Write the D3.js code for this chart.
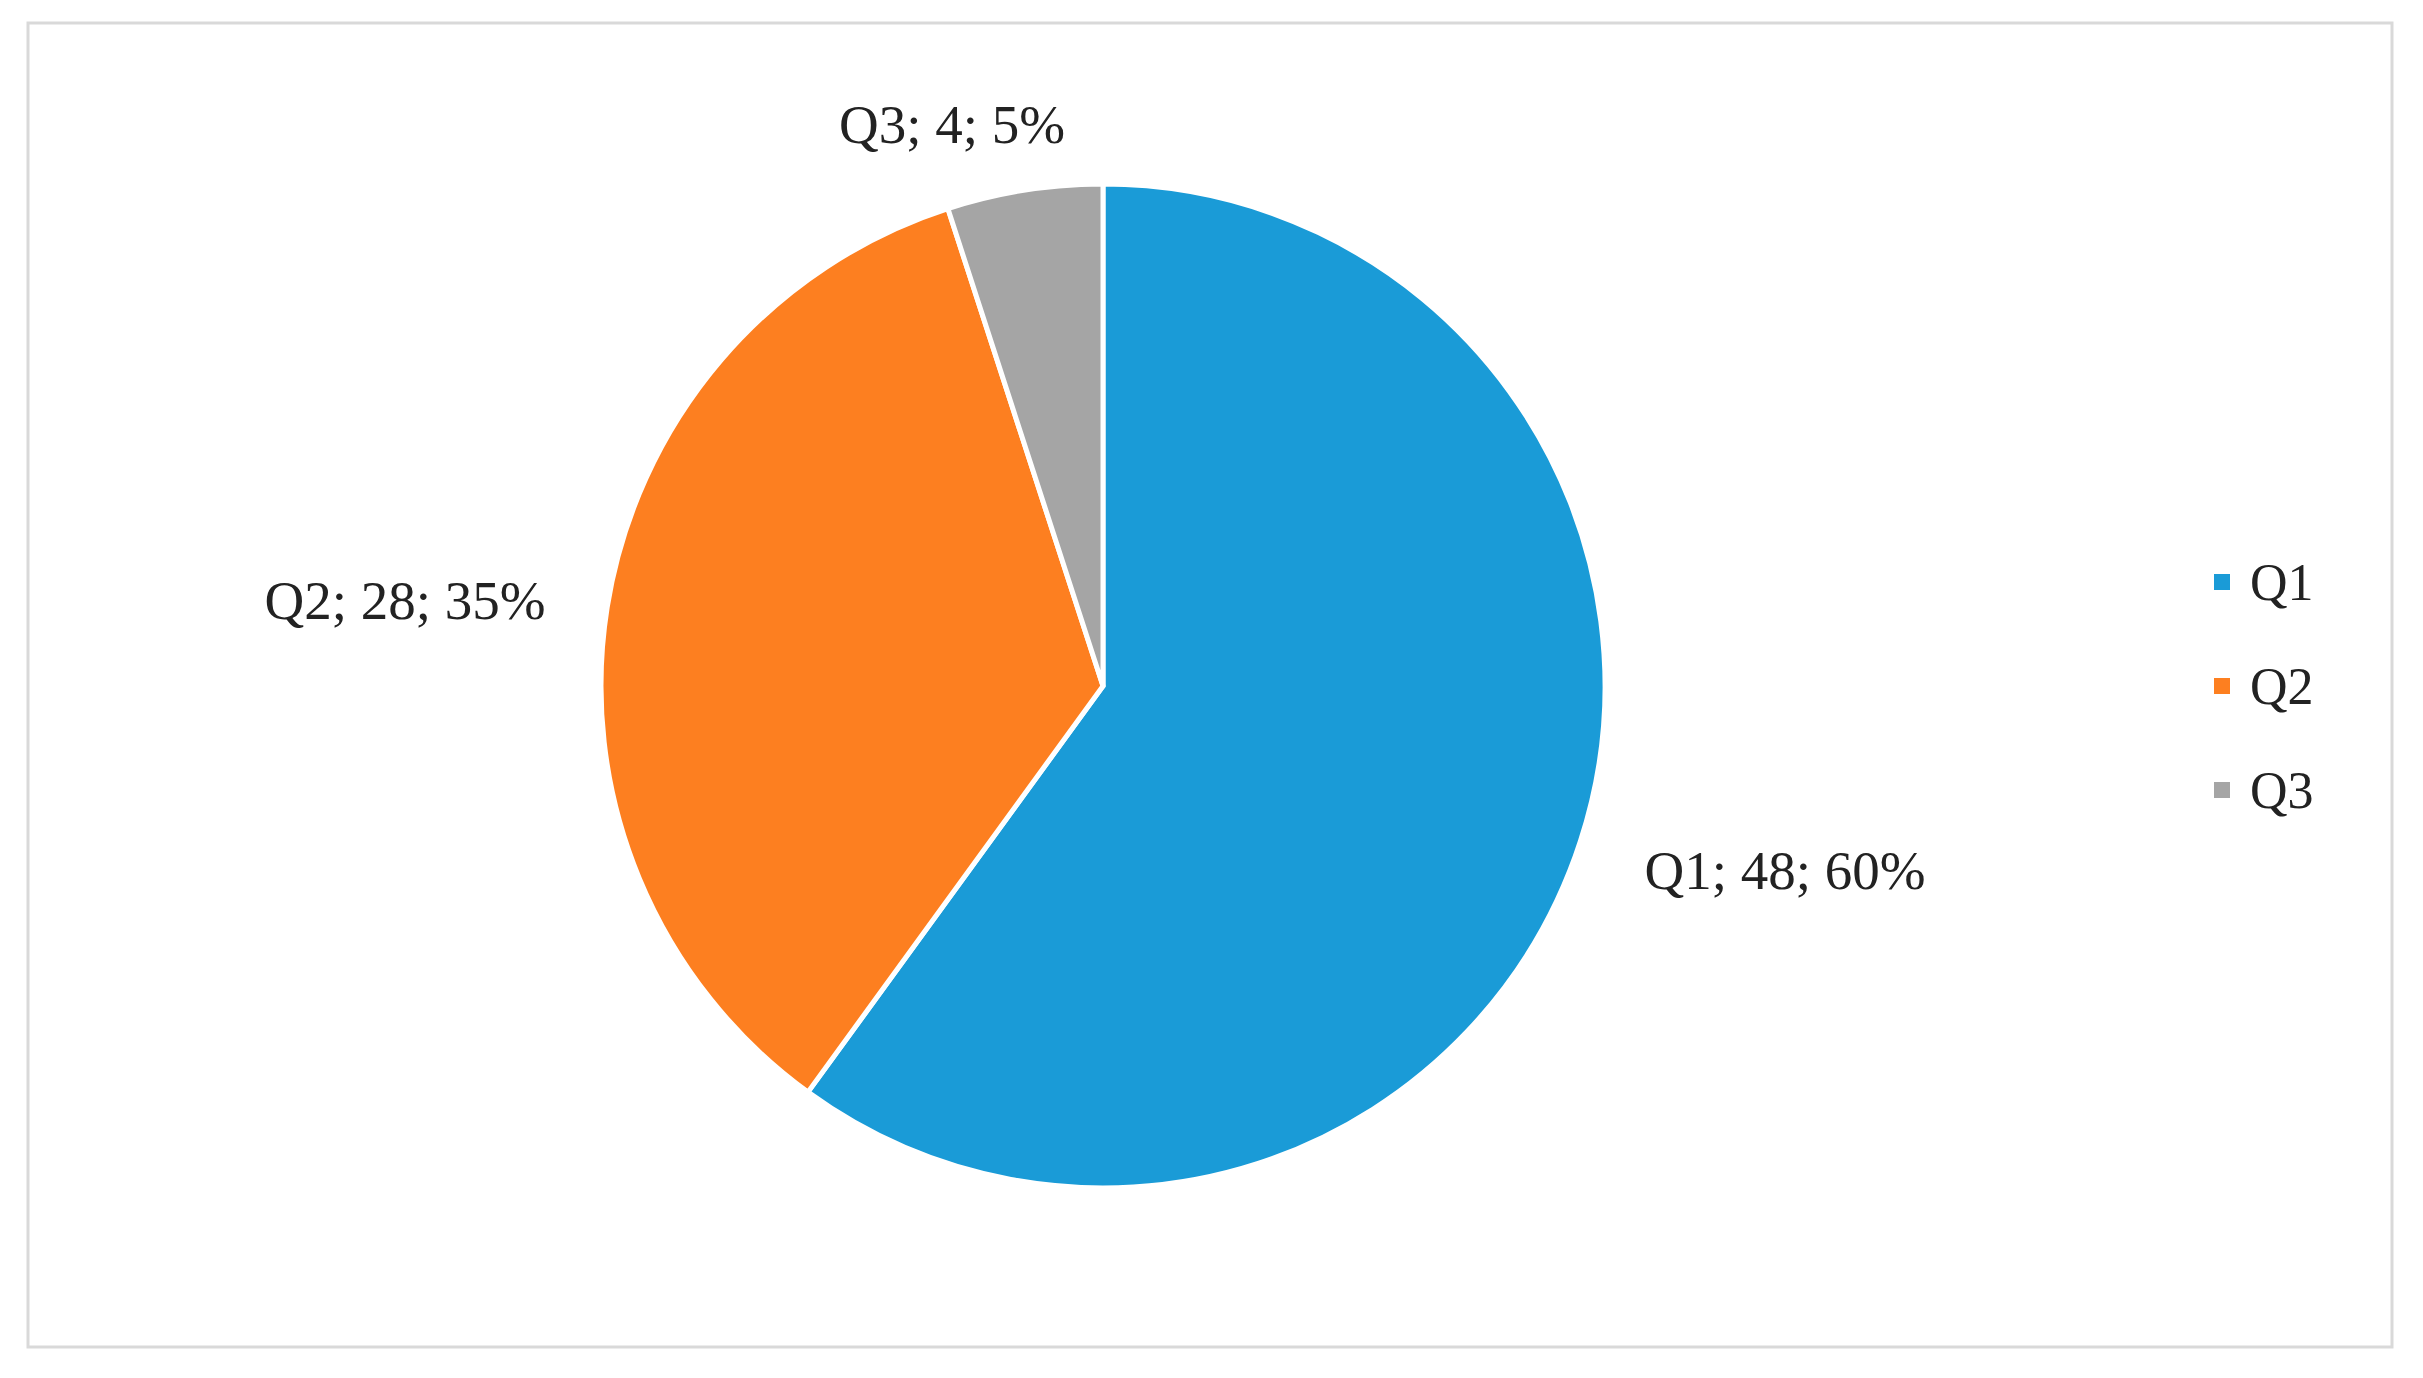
<!DOCTYPE html>
<html>
<head>
<meta charset="utf-8">
<script src="https://cdn.jsdelivr.net/npm/d3@7"></script>
<style>
  body { margin: 0; background: #fff; }
  text { font-family: "Liberation Serif", "Times New Roman", serif; fill: #222; }
</style>
</head>
<body>
<svg id="svg" width="2423" height="1378"></svg>
<script>
var categories = ['Q1', 'Q2', 'Q3'];
var values = [48, 28, 4];
var percents = ['60%', '35%', '5%'];
var colors = ['#1a9bd7', '#fd7f20', '#a5a5a5'];

var svg = d3.select('#svg');

svg.append('rect')
    .attr('x', 28).attr('y', 23)
    .attr('width', 2364).attr('height', 1324)
    .attr('fill', '#fff').attr('stroke', '#d9d9d9').attr('stroke-width', 3);

var cx = 1103, cy = 686, r = 502;
var pie = d3.pie().sort(null).value(function(d) { return d; });
var arcs = pie(values);
var arc = d3.arc().innerRadius(0).outerRadius(r);

var g = svg.append('g').attr('transform', 'translate(' + cx + ',' + cy + ')');
g.selectAll('path')
    .data(arcs)
    .enter().append('path')
    .attr('d', arc)
    .attr('fill', function(d, i) { return colors[i]; })
    .attr('stroke', '#fff')
    .attr('stroke-width', 5)
    .attr('stroke-linejoin', 'round');

// label positions outside slices
var labelPos = [[682, 184], [-698, -86], [-151, -562]];
g.selectAll('text.lbl')
    .data(arcs)
    .enter().append('text')
    .attr('class', 'lbl')
    .attr('x', function(d, i) { return labelPos[i][0]; })
    .attr('y', function(d, i) { return labelPos[i][1]; })
    .attr('text-anchor', 'middle')
    .attr('dominant-baseline', 'central')
    .attr('font-size', 55)
    .text(function(d, i) { return categories[i] + '; ' + values[i] + '; ' + percents[i]; });

var legend = svg.append('g');
var ly = d3.scalePoint().domain(categories).range([582, 790]);
legend.selectAll('rect')
    .data(categories)
    .enter().append('rect')
    .attr('x', 2214)
    .attr('y', function(d) { return ly(d) - 8; })
    .attr('width', 16).attr('height', 16)
    .attr('fill', function(d, i) { return colors[i]; });
legend.selectAll('text')
    .data(categories)
    .enter().append('text')
    .attr('x', 2250)
    .attr('y', function(d) { return ly(d); })
    .attr('dominant-baseline', 'central')
    .attr('font-size', 52)
    .text(function(d) { return d; });
</script>
</body>
</html>
